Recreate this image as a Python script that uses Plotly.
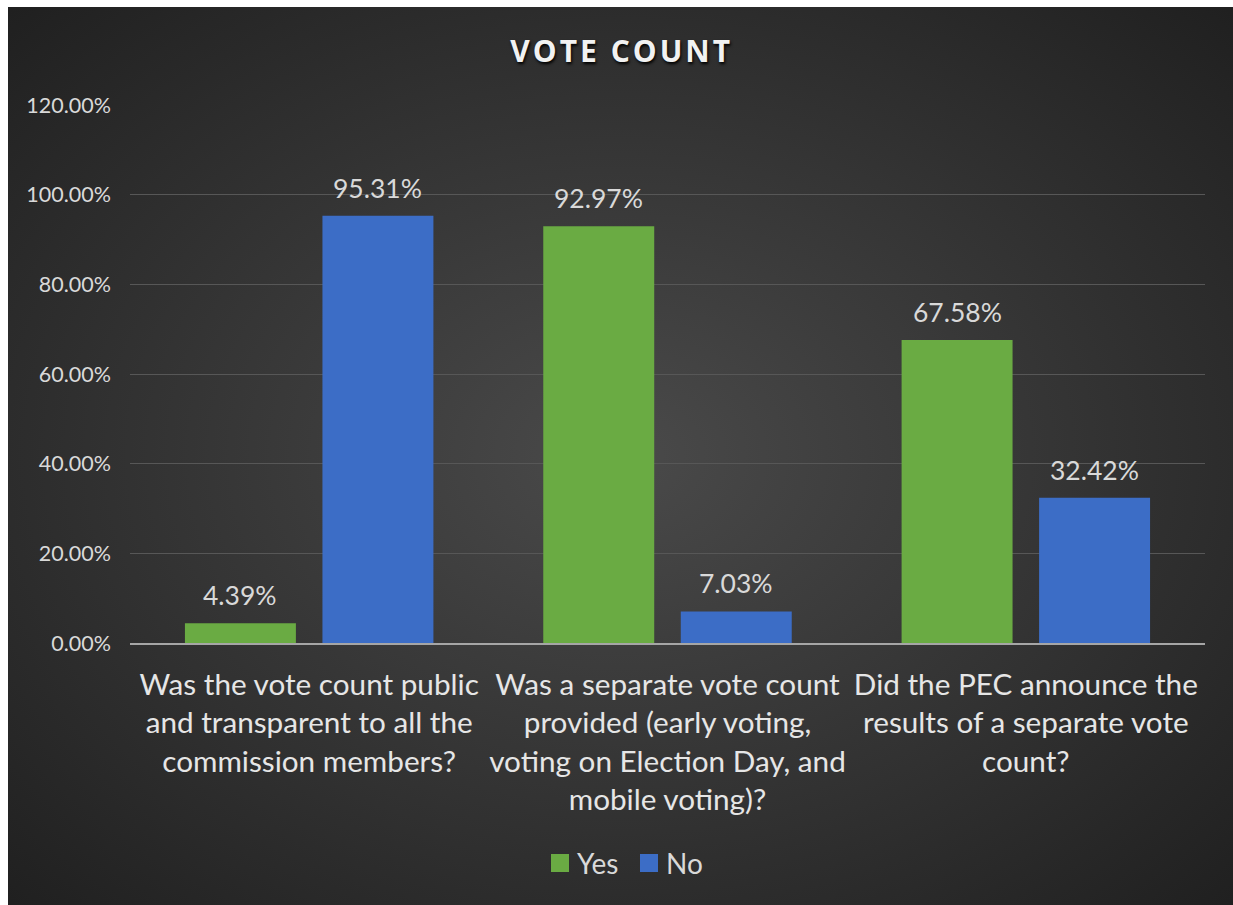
import base64
import plotly.graph_objects as go

# Survey questions (x categories) and answer shares in percent
categories = [
    "Was the vote count public<br>and transparent to all the<br>commission members?",
    "Was a separate vote count<br>provided (early voting,<br>voting on Election Day, and<br>mobile voting)?",
    "Did the PEC announce the<br>results of a separate vote<br>count?",
]
yes_values = [4.39, 92.97, 67.58]
no_values = [95.31, 7.03, 32.42]
y_ticks = [0, 20, 40, 60, 80, 100, 120]
y_tick_labels = ["0.00%", "20.00%", "40.00%", "60.00%", "80.00%", "100.00%", "120.00%"]
chart_title = "VOTE COUNT"

GREEN = "#6aab43"
BLUE = "#3c6dc6"
TEXT = "#d9d9d9"
FONT = "Lato"

W, H = 1233, 905
L, R, T, B = 130, 28, 105, 262
plot_w = W - L - R
plot_h = H - T - B

# dark radial-gradient backdrop for the chart area
svg = (
    '<svg xmlns="http://www.w3.org/2000/svg" width="1225" height="898" '
    'viewBox="0 0 1225 898" preserveAspectRatio="none">'
    '<defs><radialGradient id="g" cx="50%" cy="50%" r="72%">'
    '<stop offset="0" stop-color="#4a4a4a"/>'
    '<stop offset="1" stop-color="#1f1f1f"/>'
    '</radialGradient></defs>'
    '<rect width="1225" height="898" fill="url(#g)"/></svg>'
)
svg_uri = "data:image/svg+xml;base64," + base64.b64encode(svg.encode()).decode()

fig = go.Figure()
fig.add_trace(go.Bar(name="Yes", x=categories, y=yes_values, marker_color=GREEN,
                     marker_line_width=0, showlegend=False))
fig.add_trace(go.Bar(name="No", x=categories, y=no_values, marker_color=BLUE,
                     marker_line_width=0, showlegend=False))

bargap = 0.2325
slot_px = plot_w / len(categories) * (1 - bargap) / 2

# value labels above each bar
for series, shift in ((yes_values, -slot_px / 2), (no_values, slot_px / 2)):
    for cat, v in zip(categories, series):
        fig.add_annotation(
            x=cat, y=v, xref="x", yref="y", text=f"{v:.2f}%", showarrow=False,
            xshift=shift, yshift=28, yanchor="middle",
            font=dict(family=FONT, size=26.5, color=TEXT),
        )

# legend drawn as swatches + labels
for label, color, x0 in (("Yes", GREEN, 551), ("No", BLUE, 640)):
    fig.add_shape(type="rect", xref="paper", yref="paper",
                  x0=(x0 - L) / plot_w, x1=(x0 + 18 - L) / plot_w,
                  y0=(H - B - 872) / plot_h, y1=(H - B - 854) / plot_h,
                  fillcolor=color, line_width=0)
    fig.add_annotation(x=(x0 + 24 - L) / plot_w, y=(H - B - 863) / plot_h,
                       xref="paper", yref="paper", text=label, showarrow=False,
                       xanchor="left", yanchor="middle",
                       font=dict(family=FONT, size=28, color=TEXT))

fig.add_layout_image(
    source=svg_uri, xref="paper", yref="paper",
    x=(8 - L) / plot_w, y=(H - B - 7) / plot_h,
    sizex=(W - 8) / plot_w, sizey=(H - 7) / plot_h,
    xanchor="left", yanchor="top", sizing="stretch", layer="below",
)

# widen the title's letter spacing with hair spaces
spaced_title = "\u200a".join(chart_title)

fig.update_layout(
    width=W, height=H,
    margin=dict(l=L, r=R, t=T, b=B, autoexpand=False),
    paper_bgcolor="white",
    plot_bgcolor="rgba(0,0,0,0)",
    barmode="group", bargap=bargap, bargroupgap=0.193,
    title=dict(
        text=f"<b>{spaced_title}</b>", x=0.503, xanchor="center",
        y=1 - 51 / H, yanchor="middle", yref="container",
        font=dict(family="Open Sans", size=30, color="#f2f2f2", shadow="1px 2px 3px #000000"),
    ),
    xaxis=dict(
        showgrid=False, showline=True, linecolor="#a6a6a6", linewidth=2,
        ticks="", tickfont=dict(family=FONT, size=29.7, color="#e6e6e6"),
        ticklabelstandoff=14,
    ),
    yaxis=dict(
        range=[0, 120], tickvals=y_ticks, ticktext=y_tick_labels,
        showgrid=True, gridcolor="#575757", gridwidth=1, zeroline=False,
        showline=False, ticks="", tickfont=dict(family=FONT, size=21.5, color=TEXT),
        ticklabelstandoff=18,
    ),
)

fig.write_html("out.html")
